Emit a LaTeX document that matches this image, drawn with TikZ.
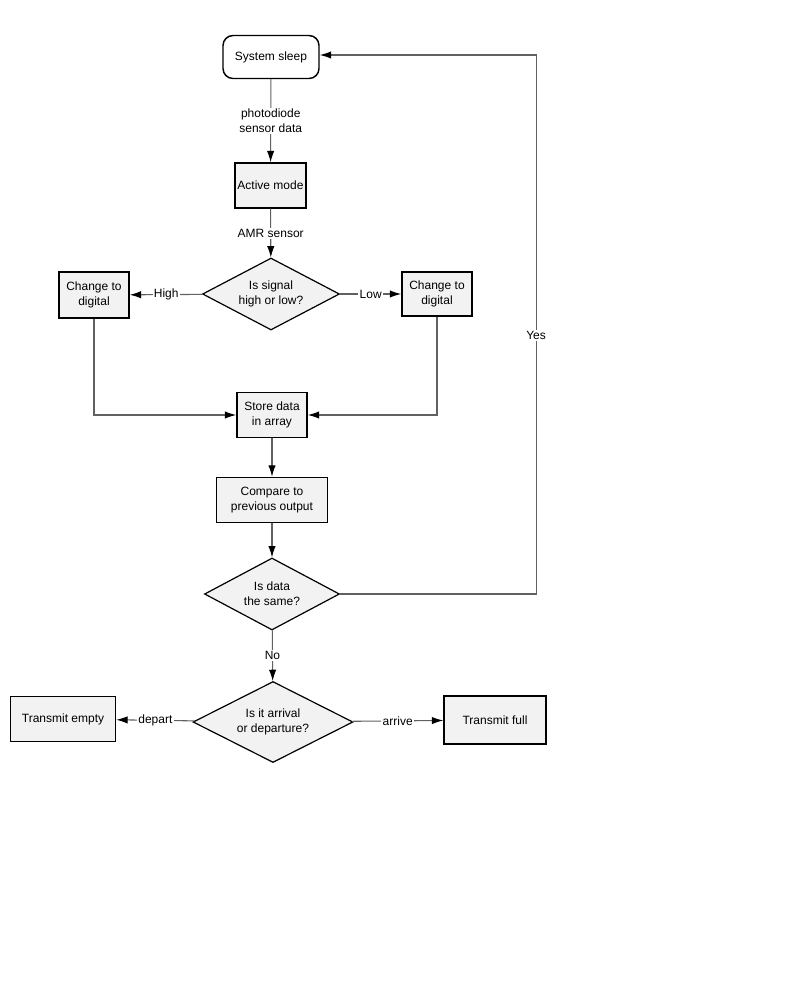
\documentclass[tikz,border=0pt]{standalone}
\usepackage{fontspec}
\setmainfont{Liberation Sans}
\usetikzlibrary{shapes.geometric,arrows.meta}
\colorlet{lnx}{black!62}
\colorlet{flx}{black!5}
\tikzset{
    blok/.style={draw,line width=1.1pt,fill=flx,align=center,inner sep=2pt,font=\fontsize{9}{11}\selectfont},
    rblok/.style={blok,rounded corners=7.5pt,fill=white},
    dmnd/.style={draw,diamond,line width=0.9pt,fill=flx,align=center,inner sep=0pt,aspect=2,font=\fontsize{9}{11}\selectfont},
    conn/.style={lnx,line width=0.8pt,-{Latex[length=8.5pt,width=5.5pt,black]}},
    lbl/.style={fill=white,inner sep=1pt,text=black,font=\fontsize{9}{11}\selectfont,align=center}
}
\begin{document}
\begin{tikzpicture}[x=0.75pt,y=-0.75pt]
    \useasboundingbox (0,0) rectangle (800,1000);
    \node [rblok,minimum width=72pt,minimum height=32.25pt] (sleep) at (271,57) {System sleep};
    \node [blok,minimum width=53.25pt,minimum height=33.75pt] (active) at (270.5,185.5) {Active mode};
    \node [dmnd,minimum width=102.75pt,minimum height=54pt] (sig) at (271,294) {Is signal\\high or low?};
    \node [blok,minimum width=52.5pt,minimum height=34.5pt] (hidig) at (94,295) {Change to\\digital};
    \node [blok,minimum width=52.5pt,minimum height=33pt] (lodig) at (437,294) {Change to\\digital};
    \node [blok,minimum width=52.5pt,minimum height=33.75pt] (store) at (272,415) {Store data\\in array};
    \node [blok,minimum width=83.25pt,minimum height=33.75pt] (comp) at (272,500) {Compare to\\previous output};
    \node [dmnd,minimum width=101.25pt,minimum height=54pt] (same) at (272,594) {Is data\\the same?};
    \node [dmnd,minimum width=120pt,minimum height=60.75pt] (arr) at (273,722) {Is it arrival\\or departure?};
    \node [blok,minimum width=78.75pt,minimum height=33.75pt] (empty) at (63,719) {Transmit empty};
    \node [blok,minimum width=76.5pt,minimum height=36pt] (full) at (495,720) {Transmit full};
    \draw [conn] (sleep) -- node [lbl] {photodiode\\sensor data} (active);
    \draw [conn] (active) -- node [lbl] {AMR sensor} (sig);
    \draw [conn] (sig) -- node [lbl] {High} (hidig);
    \draw [conn] (sig) -- node [lbl] {Low} (lodig);
    \draw [conn] (hidig) |- (store);
    \draw [conn] (lodig) |- (store);
    \draw [conn] (store) -- (comp);
    \draw [conn] (comp) -- (same);
    \draw [conn] (same.east) -- ++(196,0) |- node [lbl,pos=0.24] {Yes} ([yshift=1.5pt]sleep.east);
    \draw [conn] (same) -- node [lbl] {No} (arr);
    \draw [conn] (arr) -- node [lbl] {depart} (empty);
    \draw [conn] (arr) -- node [lbl] {arrive} (full);
\end{tikzpicture}
\end{document}
